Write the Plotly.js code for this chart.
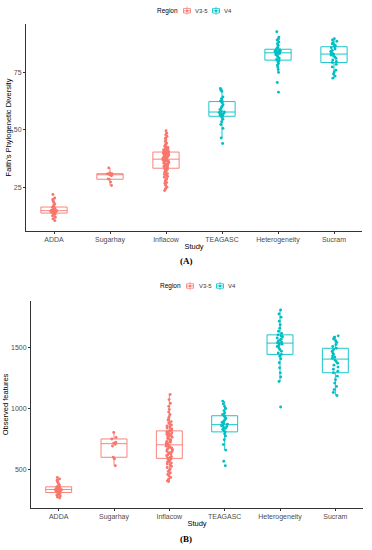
<!DOCTYPE html>
<html>
<head>
<meta charset="utf-8">
<script src="https://cdn.plot.ly/plotly-3.0.1.min.js"></script>
<style>html,body{margin:0;padding:0;background:#fff;}#chart{width:372px;height:550px;}</style>
</head>
<body>
<div id="chart"></div>
<script>
// ---- Data ----
const studies = ["ADDA", "Sugarhay", "Inflacow", "TEAGASC", "Heterogeneity", "Sucram"];
const regions = ["V3-5", "V4"];
const regionV35 = ["ADDA", "Sugarhay", "Inflacow"];
const regionV4 = ["TEAGASC", "Heterogeneity", "Sucram"];

// Panel A: Faith's Phylogenetic Diversity
const fpd_ADDA = [10.4, 11.2, 11.9, 12.5, 12.9, 13.2, 13.5, 13.6, 13.8, 14.0, 14.1, 14.3, 14.4, 14.5, 14.6, 14.7, 14.8, 15.0, 15.1, 15.3, 15.5, 15.8, 16.0, 16.2, 16.5, 17.0, 17.6, 18.3, 19.0, 19.6, 20.3, 21.8];
const fpd_Sugarhay = [25.7, 27.2, 28.4, 28.6, 30.0, 30.4, 30.5, 30.8, 30.9, 31.2, 33.4];
const fpd_Inflacow = [23.5, 24.3, 25.0, 25.8, 26.6, 27.0, 27.7, 28.1, 28.6, 29.3, 29.6, 30.2, 30.5, 30.9, 31.4, 31.7, 32.0, 32.5, 32.8, 33.1,
  33.4, 33.8, 34.0, 34.2, 34.6, 34.8, 35.1, 35.2, 35.4, 35.7, 35.8, 36.0, 36.3, 36.4, 36.5, 36.7, 36.8, 36.9, 37.0, 37.1,
  37.3, 37.4, 37.6, 37.7, 37.8, 38.0, 38.2, 38.3, 38.5, 38.6, 38.9, 39.0, 39.2, 39.5, 39.6, 39.8, 39.9, 40.0, 40.1, 40.2,
  40.4, 40.6, 40.9, 41.1, 41.3, 41.7, 41.9, 42.2, 42.4, 42.8, 43.3, 43.7, 44.2, 44.9, 45.7, 46.3, 47.1, 47.8, 48.5, 49.6];
const fpd_TEAGASC = [44.0, 46.4, 50.6, 52.3, 53.5, 54.6, 55.4, 55.9, 56.1, 56.4, 56.7, 57.0, 57.3, 57.5, 57.7, 57.8, 58.2, 58.8, 59.5, 60.2, 60.9, 61.8, 62.3, 62.5, 62.8, 63.5, 64.3, 66.8, 67.3, 68.0];
const fpd_Heterogeneity = [66.4, 70.6, 75.0, 76.3, 77.4, 78.2, 78.9, 79.6, 80.1, 80.6, 81.2, 81.8, 82.3, 82.7, 83.0, 83.2, 83.4, 83.5, 83.6, 83.7, 83.8, 84.0, 84.2, 84.4, 84.6, 84.8, 84.9, 85.3, 86.0, 86.8, 87.5, 88.3, 89.1, 89.6, 90.4, 92.7];
const fpd_Sucram = [72.5, 73.4, 74.3, 75.2, 76.0, 77.4, 78.5, 79.3, 79.8, 80.4, 81.1, 81.7, 82.2, 82.6, 82.9, 83.1, 83.4, 83.7, 84.1, 84.6, 85.2, 85.8, 86.2, 86.6, 87.0, 87.5, 88.0, 88.6, 89.1, 89.7];

// Panel B: Observed features
const obs_ADDA = [264, 272, 281, 289, 296, 301, 305, 308, 312, 316, 319, 322, 325, 328, 331, 333, 335, 338, 340, 343, 346, 349, 352, 355, 358, 362, 370, 381, 395, 410, 421, 432];
const obs_Sugarhay = [529, 585, 598, 690, 705, 714, 722, 748, 760, 801];
const obs_Inflacow = [399, 405, 418, 432, 446, 458, 470, 481, 492, 503, 514, 525, 534, 543, 551, 559, 566, 573, 580, 586,
  592, 598, 605, 611, 618, 624, 630, 636, 642, 648, 654, 659, 664, 669, 674, 679, 684, 689, 694, 698,
  702, 706, 711, 716, 721, 727, 733, 739, 745, 751, 757, 763, 769, 775, 781, 787, 793, 799, 805, 811,
  817, 823, 830, 838, 846, 854, 862, 871, 880, 890, 902, 915, 930, 948, 968, 990, 1015, 1040, 1070, 1112];
const obs_TEAGASC = [529, 565, 657, 702, 741, 772, 790, 806, 815, 826, 835, 843, 850, 856, 862, 868, 875, 883, 892, 903, 915, 928, 938, 948, 962, 980, 997, 1015, 1036, 1058];
const obs_Heterogeneity = [1009, 1218, 1256, 1289, 1330, 1372, 1405, 1425, 1440, 1452, 1466, 1480, 1494, 1505, 1515, 1524, 1530, 1535, 1542, 1550, 1558, 1566, 1575, 1584, 1592, 1600, 1612, 1630, 1655, 1683, 1712, 1745, 1770, 1803];
const obs_Sucram = [1104, 1128, 1152, 1178, 1205, 1232, 1262, 1290, 1302, 1318, 1336, 1352, 1368, 1382, 1395, 1408, 1418, 1428, 1440, 1452, 1466, 1480, 1490, 1505, 1520, 1538, 1552, 1566, 1580, 1592];

const fpdTicks = [25, 50, 75];
const obsTicks = [500, 1000, 1500];

// ---- Build ----
const COL = {"V3-5": "#F8766D", "V4": "#00BFC4"};
const fpd = {ADDA: fpd_ADDA, Sugarhay: fpd_Sugarhay, Inflacow: fpd_Inflacow, TEAGASC: fpd_TEAGASC, Heterogeneity: fpd_Heterogeneity, Sucram: fpd_Sucram};
const obs = {ADDA: obs_ADDA, Sugarhay: obs_Sugarhay, Inflacow: obs_Inflacow, TEAGASC: obs_TEAGASC, Heterogeneity: obs_Heterogeneity, Sucram: obs_Sucram};

function makeTrace(dataMap, groups, region, xa, ya) {
  const x = [], y = [];
  groups.forEach(s => dataMap[s].forEach(v => { x.push(s); y.push(v); }));
  return {
    type: 'box', x: x, y: y, name: region, xaxis: xa, yaxis: ya, showlegend: false,
    boxpoints: 'all', jitter: 0.25, pointpos: 0, whiskerwidth: 0,
    line: {color: COL[region], width: 0.9},
    fillcolor: 'rgba(255,255,255,0)',
    marker: {color: COL[region], size: 2.9},
    hoverinfo: 'y'
  };
}

const traces = [
  makeTrace(fpd, regionV35, regions[0], 'x', 'y'),
  makeTrace(fpd, regionV4, regions[1], 'x', 'y'),
  makeTrace(obs, regionV35, regions[0], 'x2', 'y2'),
  makeTrace(obs, regionV4, regions[1], 'x2', 'y2')
];

const W = 372, H = 550;
const px = v => v / W, py = v => 1 - v / H;
const FONT = 'Liberation Sans, Arial, sans-serif';
const tickFont = {family: FONT, size: 7, color: '#4D4D4D'};
const titleFont = {family: FONT, size: 7.5, color: '#000'};

function xAxis(domain, anchor) {
  return {
    domain: domain, anchor: anchor, type: 'category', categoryorder: 'array', categoryarray: studies,
    range: [-0.5, 5.5], showline: true, linecolor: '#333', linewidth: 1, ticks: 'outside', ticklen: 2,
    tickcolor: '#333', tickfont: tickFont, showgrid: false, zeroline: false,
    title: {text: 'Study', font: titleFont, standoff: 0}
  };
}
function yAxis(domain, anchor, range, ticks, title) {
  return {
    domain: domain, anchor: anchor, range: range, tickvals: ticks, ticktext: ticks.map(String),
    showline: true, linecolor: '#333', linewidth: 1, ticks: 'outside', ticklen: 2,
    tickcolor: '#333', tickfont: tickFont, showgrid: false, zeroline: false,
    title: {text: title, font: titleFont, standoff: 1}
  };
}

// Manual ggplot-style legend (Region: V3-5, V4)
const shapes = [], annotations = [];
function addLegend(cy, xTitle, xKey1, xText1, xKey2, xText2) {
  annotations.push({text: 'Region', xref: 'paper', yref: 'paper', x: px(xTitle), y: py(cy), xanchor: 'left', yanchor: 'middle',
    showarrow: false, font: {family: FONT, size: 6.5, color: '#000'}});
  [[xKey1, xText1, regions[0]], [xKey2, xText2, regions[1]]].forEach(([kx, tx, r]) => {
    const c = COL[r];
    shapes.push({type: 'line', xref: 'paper', yref: 'paper', x0: px(kx), x1: px(kx), y0: py(cy - 4), y1: py(cy + 4), line: {color: c, width: 0.8}});
    shapes.push({type: 'rect', xref: 'paper', yref: 'paper', x0: px(kx - 3.5), x1: px(kx + 3.5), y0: py(cy - 2.2), y1: py(cy + 2.2), line: {color: c, width: 0.8}, fillcolor: '#fff'});
    shapes.push({type: 'line', xref: 'paper', yref: 'paper', x0: px(kx - 3.5), x1: px(kx + 3.5), y0: py(cy), y1: py(cy), line: {color: c, width: 0.8}});
    shapes.push({type: 'circle', xref: 'paper', yref: 'paper', x0: px(kx - 1.2), x1: px(kx + 1.2), y0: py(cy - 1.2), y1: py(cy + 1.2), line: {width: 0}, fillcolor: c});
    annotations.push({text: r, xref: 'paper', yref: 'paper', x: px(tx), y: py(cy), xanchor: 'left', yanchor: 'middle',
      showarrow: false, font: {family: FONT, size: 6, color: '#333'}});
  });
}
addLegend(10.8, 155, 187, 193, 216, 222);
addLegend(286, 158, 190, 197, 220, 226);

annotations.push({text: '<b>(A)</b>', xref: 'paper', yref: 'paper', x: px(186), y: py(261), xanchor: 'center', yanchor: 'middle', showarrow: false,
  font: {family: 'Liberation Serif, Times New Roman, serif', size: 9, color: '#000'}});
annotations.push({text: '<b>(B)</b>', xref: 'paper', yref: 'paper', x: px(186), y: py(539), xanchor: 'center', yanchor: 'middle', showarrow: false,
  font: {family: 'Liberation Serif, Times New Roman, serif', size: 9, color: '#000'}});

const layout = {
  width: W, height: H, margin: {l: 0, r: 0, t: 0, b: 0},
  paper_bgcolor: '#fff', plot_bgcolor: '#fff', showlegend: false,
  boxmode: 'overlay', boxgap: 0.33,
  xaxis: xAxis([px(26), px(362)], 'y'),
  yaxis: yAxis([py(231), py(24)], 'x', [5.9, 96.1], fpdTicks, 'Faith’s Phylogenetic Diversity'),
  xaxis2: xAxis([px(31), px(363)], 'y2'),
  yaxis2: yAxis([py(508), py(301)], 'x2', [183, 1877], obsTicks, 'Observed features'),
  shapes: shapes,
  annotations: annotations
};

Plotly.newPlot('chart', traces, layout, {staticPlot: true, displayModeBar: false});
</script>
</body>
</html>
